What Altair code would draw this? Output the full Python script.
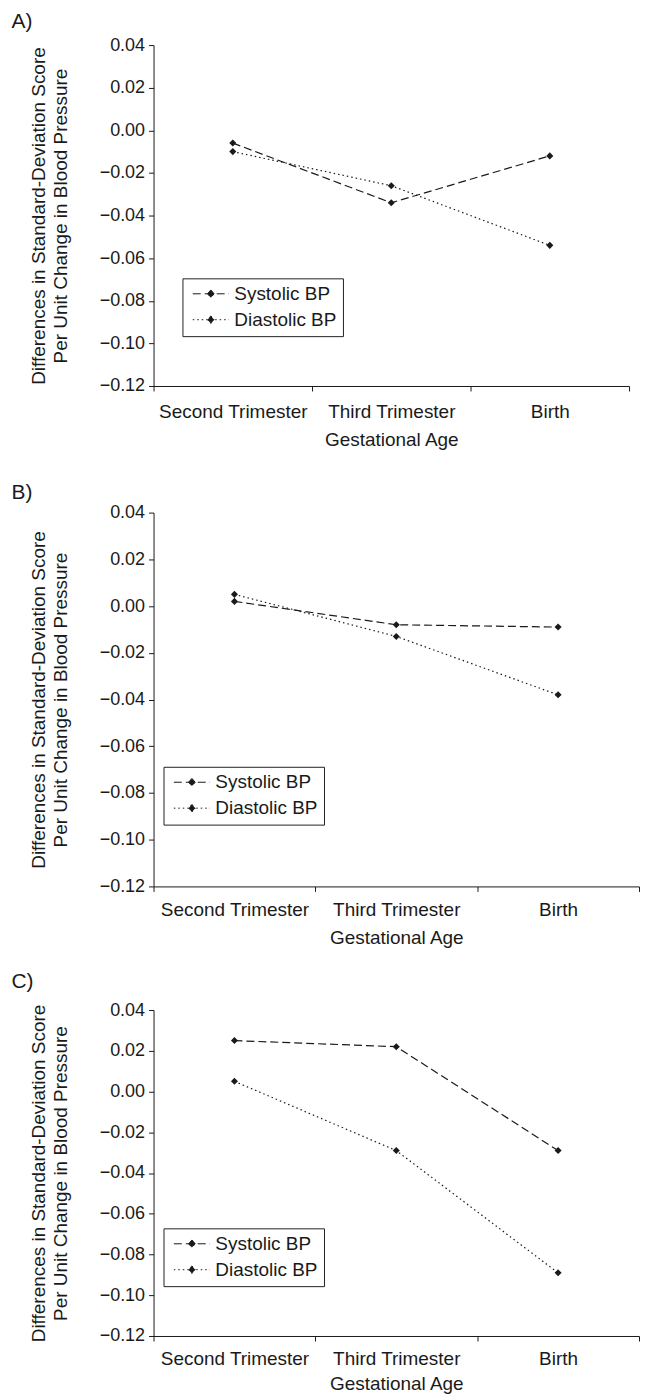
import altair as alt
import pandas as pd

stages = ["Second Trimester", "Third Trimester", "Birth"]
series = ["Systolic BP", "Diastolic BP"]
panel_labels = ["A)", "B)", "C)"]

a_systolic = [-0.006, -0.034, -0.012]
a_diastolic = [-0.010, -0.026, -0.054]
b_systolic = [0.002, -0.008, -0.009]
b_diastolic = [0.005, -0.013, -0.038]
c_systolic = [0.025, 0.022, -0.029]
c_diastolic = [0.005, -0.029, -0.089]

y_ticks = [-0.12, -0.10, -0.08, -0.06, -0.04, -0.02, 0.00, 0.02, 0.04]
y_title = ["Differences in Standard-Deviation Score", "Per Unit Change in Blood Pressure"]
x_title = "Gestational Age"

FONT = "Liberation Sans"
INK = "#1a1a1a"
LEGEND_SYMBOL = "M-3.3,0H3.3M0,-0.7L0.6,0L0,0.7L-0.6,0Z"


def panel(label, sys_vals, dia_vals, width, height, legend_x, legend_y, title_offset,
          label_pad, title_pad):
    df = pd.DataFrame({
        "stage": stages * 2,
        "idx": list(range(len(stages))) * 2,
        "series": [series[0]] * len(stages) + [series[1]] * len(stages),
        "value": sys_vals + dia_vals,
    })
    x = alt.X(
        "stage:N",
        sort=stages,
        scale=alt.Scale(type="band", paddingInner=0, paddingOuter=0),
        axis=alt.Axis(title=x_title, labelAngle=0, tickBand="extent", labelPadding=label_pad,
                      titlePadding=title_pad, labelFontSize=19),
    )
    y = alt.Y(
        "value:Q",
        scale=alt.Scale(domain=[-0.12, 0.04], nice=False, zero=False),
        axis=alt.Axis(values=y_ticks, format=".2f", title=y_title, grid=False,
                      labelPadding=4, titlePadding=29, titleLineHeight=22,
                      labelFontSize=18),
    )
    base = alt.Chart(df)
    lines = base.mark_line(color=INK, strokeWidth=1.2).encode(
        x=x,
        y=y,
        order="idx:Q",
        strokeDash=alt.StrokeDash(
            "series:N",
            sort=series,
            scale=alt.Scale(domain=series, range=[[8, 4], [1.5, 3]]),
            legend=alt.Legend(
                title=None, orient="none", legendX=legend_x, legendY=legend_y,
                strokeColor="#222222", fillColor="white", padding=6,
                symbolType=LEGEND_SYMBOL, symbolSize=121,
                symbolStrokeColor=INK, symbolFillColor=INK, symbolStrokeWidth=1,
                symbolOffset=13, labelOffset=14, rowPadding=6,
                labelFont=FONT, labelFontSize=19, labelColor=INK,
            ),
        ),
    )
    pts = base.mark_point(shape="diamond", filled=True, color=INK, size=50, opacity=1).encode(
        x=x, y=y
    )
    return alt.layer(lines, pts).resolve_legend(strokeDash="independent").properties(
        width=width,
        height=height,
        title=alt.TitleParams(label, anchor="start", frame="bounds", fontSize=21,
                              fontWeight="normal", font=FONT, color=INK,
                              dx=-18, offset=title_offset),
    )


A = panel(panel_labels[0], a_systolic, a_diastolic, 477, 342, 29, 234, 4, 12, 9)
B = panel(panel_labels[1], b_systolic, b_diastolic, 487, 375, 10, 255, 1, 9, 9)
C = panel(panel_labels[2], c_systolic, c_diastolic, 487, 327, 10, 219, 9, 9, 6)

top = alt.vconcat(A, B, spacing=32).resolve_scale(strokeDash="independent").resolve_legend(
    strokeDash="independent")

chart = alt.vconcat(top, C, spacing=24).resolve_scale(strokeDash="independent").resolve_legend(
    strokeDash="independent"
).properties(
    padding={"left": 3, "top": 1, "right": 0, "bottom": 0}
).configure_view(stroke=None).configure_axis(
    labelFont=FONT, titleFont=FONT, labelFontSize=18, titleFontSize=19,
    labelColor=INK, titleColor=INK, domainColor=INK, tickColor=INK,
    titleFontWeight="normal", tickSize=5, domainWidth=1, tickWidth=1,
)

chart.save("out.html", embed_options={"renderer": "svg", "actions": False})
